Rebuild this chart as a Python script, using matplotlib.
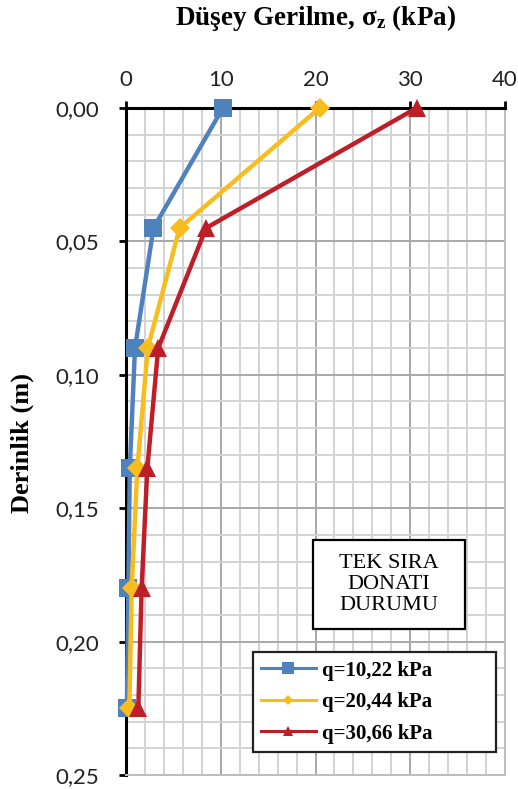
import matplotlib
matplotlib.use("Agg")
import matplotlib.pyplot as plt
from matplotlib.ticker import MultipleLocator, FuncFormatter
from matplotlib.lines import Line2D
from matplotlib.patches import Rectangle

plt.rcParams["mathtext.fontset"] = "custom"
plt.rcParams["mathtext.rm"] = "Liberation Serif:bold"
plt.rcParams["mathtext.bf"] = "Liberation Serif:bold"
plt.rcParams["mathtext.it"] = "Liberation Serif:bold"

# Depth below surface (m)
depth = [0.0, 0.045, 0.09, 0.135, 0.18, 0.225]

# Vertical stress (kPa) for each surface load
stress_q1 = [10.22, 2.9, 0.95, 0.4, 0.25, 0.1]
stress_q2 = [20.44, 5.65, 2.3, 1.2, 0.6, 0.35]
stress_q3 = [30.66, 8.45, 3.4, 2.25, 1.65, 1.3]

series_labels = ["q=10,22 kPa", "q=20,44 kPa", "q=30,66 kPa"]
series_colors = ["#4F81BD", "#F7BD1E", "#BE1E28"]
series_markers = ["s", "D", "^"]
series_msizes = [13, 10, 13]
legend_msizes = [8, 5, 7]

x_ticks = [0, 10, 20, 30, 40]
y_ticks = [0.00, 0.05, 0.10, 0.15, 0.20, 0.25]

W, H = 518, 789
fig = plt.figure(figsize=(W / 100, H / 100), dpi=100)
ax = fig.add_axes([126 / W, 1 - 775 / H, (505 - 126) / W, (775 - 108) / H])

# grid: minor every 2 kPa / 0.01 m, major on the labelled ticks
ax.xaxis.set_minor_locator(MultipleLocator(2))
ax.yaxis.set_minor_locator(MultipleLocator(0.01))
ax.grid(which="minor", color="#D3D3D3", linewidth=1.4, zorder=0)
ax.grid(which="major", color="#A8A8A8", linewidth=1.4, zorder=0)
ax.set_axisbelow(True)

for values, color, marker, ms in zip([stress_q1, stress_q2, stress_q3],
                                     series_colors, series_markers, series_msizes):
    ax.plot(values, depth, color=color, linewidth=3.2, marker=marker,
            markersize=ms, markeredgewidth=0, zorder=3, clip_on=False)

ax.set_xlim(0, 40)
ax.set_ylim(0.25, 0.0)
ax.set_xticks(x_ticks)
ax.set_yticks(y_ticks)
ax.xaxis.tick_top()
ax.yaxis.set_major_formatter(FuncFormatter(lambda v, p: f"{v:.2f}".replace(".", ",")))
ax.tick_params(axis="both", which="major", direction="out", length=5, width=2,
               color="black", labelsize=16, pad=8)
ax.tick_params(axis="y", which="major", pad=14)
ax.tick_params(axis="both", which="minor", length=0)
for lbl in ax.get_xticklabels() + ax.get_yticklabels():
    lbl.set_family("Lato")
    lbl.set_color("#222222")

ax.spines["top"].set_linewidth(2.2)
ax.spines["left"].set_linewidth(2.2)
ax.spines["top"].set_color("black")
ax.spines["left"].set_color("black")
for side in ("bottom", "right"):
    ax.spines[side].set_color("#BDBDBD")
    ax.spines[side].set_linewidth(1.4)

fig.text(315.5 / W, 1 - 18 / H, r"Düşey Gerilme, $\mathbf{\sigma_z}$ (kPa)",
         ha="center", va="center", family="Liberation Serif", weight="bold",
         fontsize=19.5)
fig.text(22 / W, 1 - 443 / H, "Derinlik (m)", rotation=90, ha="center",
         va="center", family="Liberation Serif", weight="bold", fontsize=19)

# caption box
bx0, by0, bx1, by1 = 313, 540, 465, 629
fig.patches.append(Rectangle((bx0 / W, 1 - by1 / H), (bx1 - bx0) / W, (by1 - by0) / H,
                             transform=fig.transFigure, facecolor="white",
                             edgecolor="black", linewidth=1.6, zorder=5))
fig.text((bx0 + bx1) / 2 / W, 1 - (by0 + by1) / 2 / H, "TEK SIRA\nDONATI\nDURUMU",
         ha="center", va="center", family="Liberation Serif", weight="normal",
         fontsize=16, linespacing=1.15, zorder=6)

handles = [Line2D([], [], color=c, marker=m, markersize=s, linewidth=2.2,
                  markeredgewidth=0)
           for c, m, s in zip(series_colors, series_markers, legend_msizes)]
leg = ax.legend(handles, series_labels, loc="lower left",
                bbox_to_anchor=((253 - 126) / (505 - 126), (775 - 752) / (775 - 108),
                                (496 - 253) / (505 - 126), (752 - 639) / (775 - 108)),
                mode="expand", fancybox=False, framealpha=1, edgecolor="#222222",
                prop={"family": "Liberation Serif", "weight": "bold", "size": 15},
                handlelength=2.6, handletextpad=0.3, labelspacing=0.55,
                borderpad=0.4, borderaxespad=0)
leg.get_frame().set_linewidth(1.6)
leg.set_zorder(6)

fig.savefig("out.png", dpi=100, facecolor="white")
